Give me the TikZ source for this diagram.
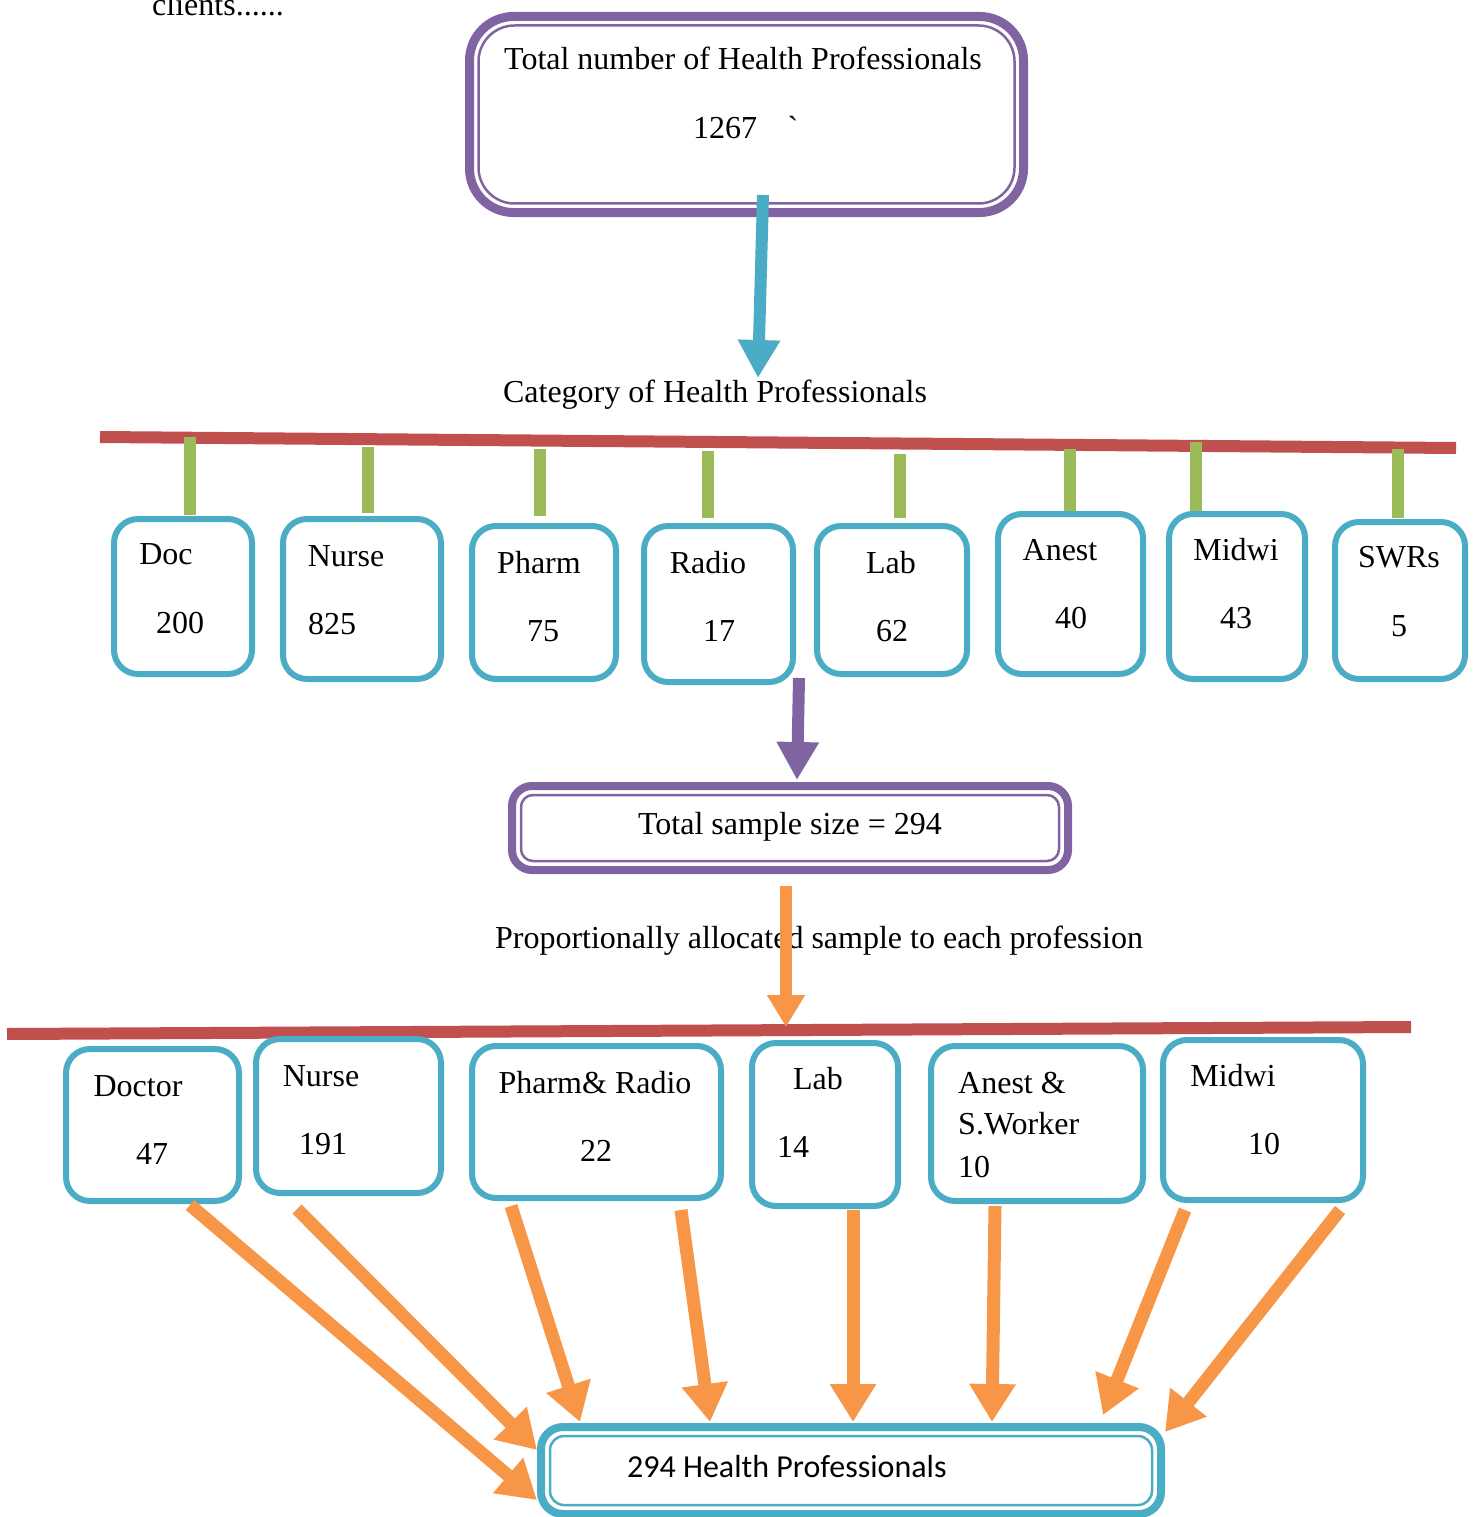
\documentclass[tikz,border=0pt]{standalone}
\usepackage{fontspec}
\setmainfont{Liberation Serif}
\newfontfamily\rawserif[Ligatures=TeXOff]{Liberation Serif}
\newfontfamily\carlito{Carlito}
\usetikzlibrary{arrows.meta,fit,calc}
\definecolor{hblue}{HTML}{4BACC6}
\definecolor{hpurple}{HTML}{8064A2}
\definecolor{horange}{HTML}{F79646}
\definecolor{hred}{HTML}{C0504D}
\definecolor{hgreen}{HTML}{9BBB59}
\begin{document}
\begin{tikzpicture}[x=1pt,y=-1pt,
  txt/.style={font=\fontsize{32}{38}\selectfont, inner sep=0pt, anchor=base},
  ltxt/.style={txt, anchor=base west},
  catbox/.style={draw=hblue, line width=6pt, rounded corners=24pt, fill=white, inner sep=0pt},
  outerbox/.style={line width=9pt, rounded corners=#1, fill=white, inner sep=0pt},
  innerbox/.style={line width=2.5pt, rounded corners=#1, inner sep=0pt},
  redbar/.style={draw=hred, line width=12pt},
  stub/.style={draw=hgreen, line width=12pt},
  bigarrow/.style={line width=12pt, -{Triangle[length=38pt,width=40pt]}},
  botarrow/.style={draw=horange, line width=13pt, -{Triangle[length=38pt,width=44pt]}},
]
\useasboundingbox (0,0) rectangle (1481,1517);

% stray text at top
\node[ltxt] (clients) at (152,16) {clients......};

% top box
\node[outerbox=44pt, draw=hpurple, fit={(469.5,16.5) (1023.5,212.5)}] (top) {};
\node[innerbox=36pt, draw=hpurple, fit={(478.5,25.5) (1014.5,203.5)}] (topin) {};
\node[txt] (toptitle) at (743,70) {Total number of Health Professionals};
\node[txt] (topnum) at (725,139) {1267};
\node[txt, font=\rawserif\fontsize{32}{38}\selectfont] (topgrave) at (793,139) {\char"60};

% category label
\node[txt] (catlabel) at (715,402) {Category of Health Professionals};

% red bar (categories)
\coordinate (barAL) at (100,437);
\coordinate (barAR) at (1456,448);
\draw[redbar] (barAL) -- (barAR);

% green stubs
\foreach \n/\x/\a/\b in {doc/190/437/515, nur/368/447/513, pha/540/449/516, rad/708/451/518, lab/900/454/518, ane/1070/449/512, mid/1196/442/512, swr/1398/449/518}{
  \coordinate (st\n) at (\x,\a);
  \coordinate (sb\n) at (\x,\b);
  \draw[stub] (st\n) -- (sb\n);
}

% category boxes
\node[catbox, fit={(114,519) (252,674)}] (cdoc) {};
\node[catbox, fit={(283,519) (441,679)}] (cnur) {};
\node[catbox, fit={(472,526) (616,679)}] (cpha) {};
\node[catbox, fit={(644,526) (793,682)}] (crad) {};
\node[catbox, fit={(817,526) (967,674)}] (clab) {};
\node[catbox, fit={(998,514) (1143,674)}] (cane) {};
\node[catbox, fit={(1169,514) (1305,679)}] (cmid) {};
\node[catbox, fit={(1335,522) (1465,679)}] (cswr) {};

\node[txt] (tdoc) at (166,564) {Doc};
\node[txt] (ndoc) at (180,633) {200};
\node[txt] (tnur) at (346,566) {Nurse};
\node[txt] (nnur) at (332,634) {825};
\node[txt] (tpha) at (539,573) {Pharm};
\node[txt] (npha) at (543,641) {75};
\node[txt] (trad) at (708,573) {Radio};
\node[txt] (nrad) at (719,641) {17};
\node[txt] (tlab) at (891,573) {Lab};
\node[txt] (nlab) at (892,641) {62};
\node[txt] (tane) at (1060,560) {Anest};
\node[txt] (nane) at (1071,628) {40};
\node[txt] (tmid) at (1236,560) {Midwi};
\node[txt] (nmid) at (1236,628) {43};
\node[txt] (tswr) at (1399,567) {SWRs};
\node[txt] (nswr) at (1399,636) {5};

% sample box
\node[outerbox=20pt, line width=8pt, draw=hpurple, fit={(512,786) (1068,870)}] (sample) {};
\node[innerbox=12pt, draw=hpurple, fit={(521,795) (1059,861)}] (samplein) {};
\node[txt] (sampletxt) at (790,834) {Total sample size = 294};

% proportional label
\node[txt] (proplabel) at (819,948) {Proportionally allocated sample to each profession};

% red bar (allocation)
\coordinate (barBL) at (7,1034);
\coordinate (barBR) at (1411,1027);
\draw[redbar] (barBL) -- (barBR);

% allocation boxes
\node[catbox, fit={(66,1049) (239,1201)}] (adoc) {};
\node[catbox, fit={(256,1039) (441,1193)}] (anur) {};
\node[catbox, fit={(472,1046) (721,1198)}] (apr) {};
\node[catbox, fit={(752,1043) (898,1206)}] (alab) {};
\node[catbox, fit={(931,1046) (1143,1201)}] (aane) {};
\node[catbox, fit={(1163,1040) (1363,1200)}] (amid) {};

\node[txt] (atdoc) at (138,1096) {Doctor};
\node[txt] (andoc) at (152,1164) {47};
\node[txt] (atnur) at (321,1086) {Nurse};
\node[txt] (annur) at (323,1154) {191};
\node[txt] (atpr) at (595,1093) {Pharm\& Radio};
\node[txt] (anpr) at (596,1161) {22};
\node[txt] (atlab) at (818,1089) {Lab};
\node[txt] (anlab) at (793,1157) {14};
\node[ltxt] (atane1) at (958,1093) {Anest \&};
\node[ltxt] (atane2) at (958,1134) {S.Worker};
\node[ltxt] (anane) at (958,1177) {10};
\node[txt] (atmid) at (1233,1086) {Midwi};
\node[txt] (anmid) at (1264,1154) {10};

% final box
\node[outerbox=22pt, line width=8pt, draw=hblue, fit={(541,1427) (1161,1514)}] (final) {};
\node[innerbox=14pt, draw=hblue, fit={(550,1436) (1152,1505)}] (finalin) {};
\node[ltxt, font=\carlito\fontsize{32}{38}\selectfont] (finaltxt) at (627,1477) {294 Health Professionals};

% main arrows
\coordinate (a1s) at (763,195);
\coordinate (a1e) at (758,378);
\draw[bigarrow, draw=hblue, fill=hblue] (a1s) -- (a1e);
\coordinate (a2s) at (799,678);
\coordinate (a2e) at (797,780);
\draw[bigarrow, draw=hpurple, fill=hpurple, -{Triangle[length=38pt,width=40pt]}] (a2s) -- (a2e);
\coordinate (a3s) at (786,886);
\coordinate (a3e) at (786,1027);
\draw[bigarrow, draw=horange, fill=horange, -{Triangle[length=32pt,width=36pt]}] (a3s) -- (a3e);

% allocation arrows to final box
\foreach \i/\sx/\sy/\ex/\ey in {1/190/1205/537/1500, 2/297/1209/537/1450, 3/511/1206/580/1422, 4/681/1210/710/1422, 5/853/1210/853/1422, 6/995/1206/992/1422, 7/1185/1210/1103/1415, 8/1340/1210/1165/1432}{
  \coordinate (bs\i) at (\sx,\sy);
  \coordinate (be\i) at (\ex,\ey);
  \draw[botarrow, fill=horange] (bs\i) -- (be\i);
}
\end{tikzpicture}
\end{document}
